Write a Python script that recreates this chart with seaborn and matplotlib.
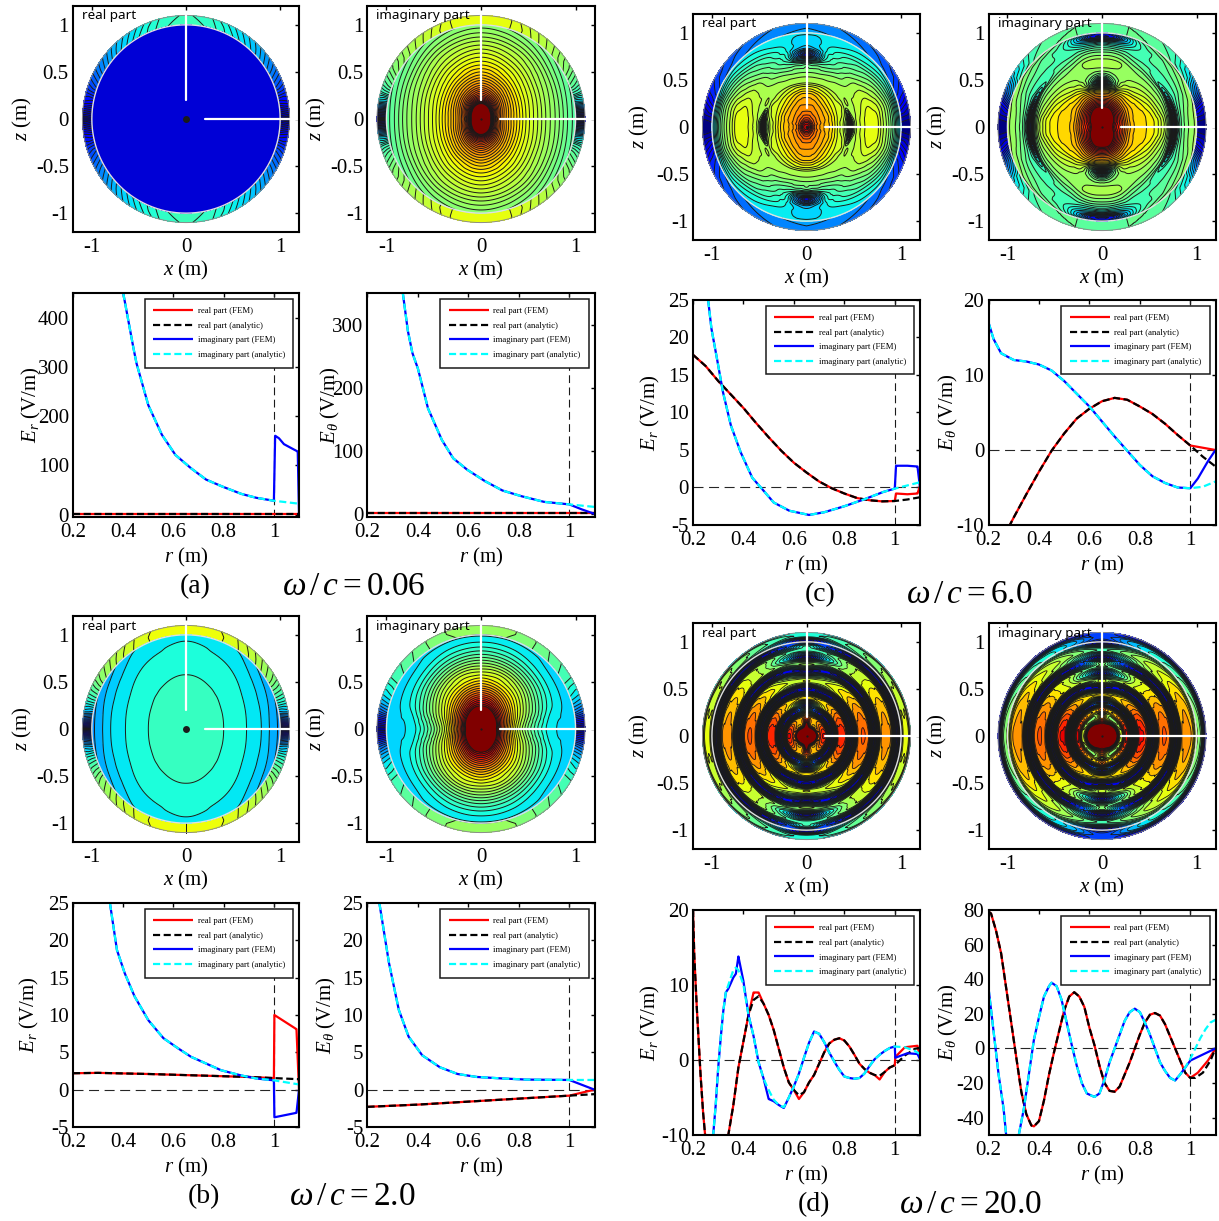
import numpy as np
import pandas as pd
import matplotlib
matplotlib.use("Agg")
import matplotlib.pyplot as plt
import matplotlib.tri as mtri
import seaborn as sns

W, H = 1219, 1221
SERIF = "Liberation Serif"

# ---- line panel data (r, value) ----
a_er_im_r = [.40,.42,.44,.453,.50,.554,.608,.67,.73,.794,.87,.93,1.0,1.1]
a_er_im = [450,395,340,307,222,162,121,94,71,57,42,34,28,22]
a_er_im_tail_r = [1.0,1.005,1.02,1.04,1.08,1.095,1.1]
a_er_im_tail = [28,160,155,143,132,128,0]
a_er_re_r = [.2,.6,1.0,1.1]
a_er_re = [1,1,1,1]
a_er_re_tail_r = [1.0,1.1]
a_er_re_tail = [1,1]

a_et_im_r = [.34,.36,.378,.4,.44,.495,.54,.595,.665,.735,.81,.90,1.0,1.1]
a_et_im = [350,290,255,230,167,117,88,70,52,37,28,19,15,11]
a_et_im_tail_r = [1.0,1.05,1.1]
a_et_im_tail = [15,7,0]
a_et_re_r = [.2,.6,1.0,1.1]
a_et_re = [1,1,1,1]
a_et_re_tail_r = [1.0,1.1]
a_et_re_tail = [1,1]

b_er_im_r = [.347,.375,.406,.445,.5,.56,.62,.67,.73,.79,.87,.93,1.0,1.1]
b_er_im = [25,18.7,15.6,12.5,9.3,6.9,5.5,4.4,3.5,2.6,1.9,1.5,1.25,.7]
b_er_im_tail_r = [1.0,1.002,1.09,1.1]
b_er_im_tail = [1.25,-3.7,-3.1,0]
b_er_re_r = [.2,.3,.5,.7,.9,1.0,1.1]
b_er_re = [2.2,2.25,2.1,1.9,1.7,1.55,1.4]
b_er_re_tail_r = [1.0,1.002,1.09,1.1]
b_er_re_tail = [1.55,10,8.1,0]

b_et_im_r = [.247,.285,.324,.363,.417,.487,.557,.634,.735,.83,1.0,1.1]
b_et_im = [25,17,10.7,7.1,4.6,3,2.1,1.7,1.5,1.35,1.3,1.3]
b_et_im_tail_r = [1.0,1.1]
b_et_im_tail = [1.3,0]
b_et_re_r = [.2,.4,.6,.8,1.0,1.1]
b_et_re = [-2.3,-2.0,-1.6,-1.2,-.8,-.6]
b_et_re_tail_r = [1.0,1.1]
b_et_re_tail = [-.8,0]

c_er_im_r = [.26,.273,.296,.319,.35,.389,.435,.474,.52,.582,.66,.72,.8,.877,.954,1.0,1.1]
c_er_im = [25,21.2,17,12.7,8.3,4.7,1.3,-.2,-2,-3.1,-3.66,-3.3,-2.5,-1.6,-.6,-.15,.7]
c_er_im_tail_r = [1.0,1.005,1.05,1.09,1.1]
c_er_im_tail = [-.15,2.9,2.9,2.8,0]
c_er_re_r = [.2,.25,.3,.35,.4,.45,.5,.55,.6,.65,.7,.75,.8,.85,.9,.95,1.0,1.05,1.1]
c_er_re = [17.7,16.2,14.2,12.4,10.6,8.6,6.7,4.9,3.3,2,.8,-.1,-.8,-1.4,-1.7,-1.85,-1.8,-1.6,-1.3]
c_er_re_tail_r = [1.0,1.005,1.05,1.09,1.1]
c_er_re_tail = [-1.8,-.8,-.9,-.8,.2]

c_et_im_r = [.2,.22,.25,.3,.35,.4,.45,.5,.55,.6,.65,.7,.75,.8,.85,.9,.95,1.0,1.05,1.1]
c_et_im = [17,14.8,12.9,12,11.8,11.4,10.6,9.2,7.5,5.8,3.8,1.8,-.1,-2,-3.5,-4.4,-5,-5.1,-4.9,-4.2]
c_et_im_tail_r = [1.0,1.03,1.07,1.1]
c_et_im_tail = [-5.1,-3.8,-1.5,0]
c_et_re_r = [.28,.3,.35,.4,.45,.5,.55,.6,.65,.7,.75,.8,.85,.9,.95,1.0,1.05,1.1]
c_et_re = [-10.3,-9,-5.9,-2.9,-.1,2.2,4.2,5.5,6.5,6.95,6.7,5.8,4.8,3.5,2,.6,-.9,-2.2]
c_et_re_tail_r = [1.0,1.05,1.1]
c_et_re_tail = [.6,.3,0]

d_er_re_r = [.2,.205,.215,.23,.24,.248,.29,.34,.36,.38,.40,.42,.44,.46,.48,.5,.52,.54,.56,.58,.6,.62,.64,.66,.68,.7,.72,.74,.76,.78,.8,.82,.84,.86,.88,.9,.92,.94,.96,.98,1.0,1.04,1.08,1.1]
d_er_re = [20,14,7,-2,-7,-10,-40,-10,-6,-1,2.5,6,8,8.5,7.5,6,4,1.5,-1,-3,-4,-4.7,-4.3,-3,-2,-.5,1,2.2,2.7,2.9,2.6,1.8,.7,-.5,-1.2,-1.7,-2,-2.1,-1.6,-1,-.7,.6,1.5,1.6]
d_er_re_tail_r = [1.0,1.002,1.04,1.09,1.1]
d_er_re_tail = [-.7,.4,1.7,1.9,.3]
d_er_re_spike_r = [.44,.46,.62,.94]
d_er_re_spike = [9,9,-5.2,-2.6]
d_er_im_r = [.26,.28,.29,.30,.31,.32,.33,.34,.36,.37,.38,.40,.42,.44,.46,.48,.5,.52,.54,.56,.58,.6,.62,.64,.66,.68,.7,.72,.74,.76,.78,.8,.82,.84,.86,.88,.9,.92,.94,.96,.98,1.0,1.04,1.08,1.1]
d_er_im = [-30,-10,-6,-1,3,6.5,9,10,12,12.3,12,10,6,3.2,-.3,-2.5,-4,-5.3,-6,-6.3,-5,-3.5,-1.8,.3,2.3,3.8,3.5,2.4,1,-.2,-1.3,-2.2,-2.4,-2.5,-2.4,-1.8,-.8,.1,.7,1.2,1.6,1.8,1.7,1.2,.8]
d_er_im_tail_r = [1.0,1.002,1.05,1.09,1.1]
d_er_im_tail = [1.8,.3,.9,.8,.1]
d_er_im_spike_r = [.34,.36,.37,.38,.40,.5,.52,.56]
d_er_im_spike = [9.5,11,11.5,13.8,10.5,-5.2,-5.5,-6.4]

d_et_re_r = [.2,.21,.23,.25,.27,.29,.31,.33,.35,.37,.38,.4,.42,.44,.46,.48,.5,.52,.54,.56,.58,.6,.62,.64,.66,.68,.7,.72,.74,.76,.78,.8,.82,.84,.86,.88,.9,.92,.94,.96,.98,1.0,1.02,1.05,1.08,1.1]
d_et_re = [79,78,68,55,35,15,-5,-25,-38,-44.5,-45,-42,-30,-15,-2,10,22,30,32.5,30,24,12,2,-10,-20,-24.5,-25,-22,-15,-8,0,8,15,19.5,20.5,19,14,7,0,-7,-14,-17,-17,-14,-7,0]
d_et_re_tail_r = [1.0,1.03,1.07,1.1]
d_et_re_tail = [-17,-14,-7,0]
d_et_im_r = [.2,.22,.24,.26,.27,.29,.32,.34,.36,.38,.4,.42,.44,.45,.47,.49,.51,.53,.55,.57,.59,.62,.64,.66,.68,.7,.72,.74,.76,.78,.8,.82,.84,.86,.88,.9,.92,.94,.96,.98,1.0,1.02,1.04,1.06,1.08,1.1]
d_et_im = [35,10,-15,-35,-50,-65,-50,-35,-15,5,18,30,36,38,36,28,15,2,-10,-20,-26,-28,-26,-18,-8,0,8,16,21,23,21,15,8,0,-8,-13,-17,-18.5,-15,-11,-6,0,6,11,15,16.5]
d_et_im_tail_r = [1.0,1.1]
d_et_im_tail = [-7,0]

# ---- contour fields: colour-scale values ----
shell_t = [0,3,6,10,15,20,30,45,60,75,90]
shell_r = [1.0,1.1]

a_re_r = [.0,1.0]
a_re_t = [0,90]
a_re = [[.08,.08],[.08,.08]]
a_re_sh_in = [.0,.03,.07,.12,.17,.21,.26,.32,.37,.41,.43]
a_re_sh_out = [.0,.05,.09,.13,.16,.19,.24,.30,.35,.40,.42]

a_im_r = [.05,.1,.15,.2,.3,.4,.5,.6,.7,.8,.9,1.0]
a_im_t = [0,30,60,90]
a_im = [[1.2,1.2,1.2,1.2],[.98,1.02,1.08,1.12],[.84,.88,.96,1.0],[.78,.81,.87,.9],[.71,.73,.77,.80],
        [.66,.675,.71,.735],[.615,.63,.66,.685],[.58,.595,.625,.645],[.545,.56,.59,.61],[.515,.53,.56,.575],
        [.48,.495,.525,.54],[.45,.465,.495,.51]]
a_im_sh_in = [.02,.12,.22,.33,.42,.47,.52,.56,.60,.63,.64]
a_im_sh_out = [.02,.14,.25,.34,.41,.45,.50,.55,.59,.63,.64]

b_re_r = [.0,.2,.4,.6,.8,.9,1.0]
b_re_t = [0,30,60,90]
b_re = [[.43,.43,.43,.43],[.42,.42,.425,.426],[.40,.403,.41,.412],[.376,.381,.392,.398],
        [.34,.351,.373,.381],[.305,.326,.358,.373],[.27,.29,.343,.364]]
b_re_sh_in = [.0,.1,.2,.3,.38,.44,.52,.58,.62,.64,.65]
b_re_sh_out = [.0,.12,.23,.32,.38,.43,.50,.56,.61,.64,.65]

b_im_r = [.05,.15,.2,.3,.4,.5,.6,.7,.8,.9,1.0]
b_im_t = [0,20,45,70,90]
b_im = [[1.2,1.2,1.2,1.2,1.2],[1.0,1.03,1.08,1.15,1.2],[.88,.91,.97,1.03,1.05],[.71,.75,.81,.88,.90],
        [.58,.63,.70,.76,.78],[.49,.55,.62,.66,.68],[.42,.48,.55,.595,.60],[.365,.415,.47,.51,.52],
        [.345,.37,.40,.43,.44],[.335,.345,.355,.375,.38],[.33,.33,.335,.34,.34]]
b_im_sh_in = [.0,.08,.15,.25,.32,.37,.43,.47,.50,.52,.52]
b_im_sh_out = [.0,.06,.13,.22,.30,.35,.42,.46,.50,.53,.53]

c_t = [0,8,15,25,45,65,75,82,90]
c_re_r = [.03,.08,.15,.25,.35,.40,.44,.46,.48,.52,.58,.68,.72,.76,.80,.84,.92,1.0]
c_re = [[.92,.92,.92,.92,.92,.92,.92,.92,.92],
        [.80,.80,.81,.81,.82,.83,.84,.84,.84],
        [.74,.74,.75,.75,.76,.77,.78,.78,.78],
        [.69,.69,.69,.70,.71,.73,.74,.74,.74],
        [.60,.60,.61,.62,.64,.67,.69,.70,.70],
        [.55,.56,.58,.60,.61,.63,.64,.65,.65],
        [.42,.46,.52,.57,.58,.60,.61,.61,.61],
        [.18,.28,.42,.54,.57,.58,.58,.58,.58],
        [.42,.46,.52,.56,.56,.56,.56,.56,.56],
        [.56,.56,.56,.56,.56,.55,.55,.55,.55],
        [.60,.60,.59,.58,.55,.53,.52,.52,.52],
        [.64,.64,.63,.60,.54,.47,.45,.44,.44],
        [.63,.63,.62,.59,.52,.45,.41,.33,.29],
        [.62,.62,.61,.57,.50,.44,.38,.25,.10],
        [.58,.58,.58,.55,.48,.42,.38,.28,.18],
        [.55,.55,.55,.52,.46,.41,.37,.33,.30],
        [.46,.46,.46,.44,.40,.37,.36,.34,.33],
        [.30,.30,.30,.33,.35,.35,.35,.35,.35]]
c_re_sh_in = [.0,.02,.05,.1,.15,.18,.22,.24,.26,.27,.28]
c_re_sh_out = [.0,.01,.03,.06,.1,.14,.18,.21,.23,.25,.26]

c_im_r = [.05,.12,.2,.3,.4,.44,.47,.5,.54,.62,.7,.73,.76,.79,.82,.9,.96,1.0]
c_im = [[1.2]*9,
        [.95,.96,.97,1.,1.05,1.1,1.12,1.15,1.15],
        [.84,.85,.86,.87,.92,.98,1.0,1.0,1.0],
        [.72,.72,.72,.73,.76,.8,.81,.81,.81],
        [.68,.68,.68,.68,.67,.66,.64,.63,.62],
        [.68,.68,.68,.67,.65,.60,.52,.46,.42],
        [.67,.67,.67,.66,.62,.57,.46,.32,.12],
        [.66,.66,.66,.64,.60,.56,.48,.40,.28],
        [.65,.65,.64,.62,.58,.54,.51,.47,.44],
        [.60,.60,.58,.56,.54,.53,.54,.54,.54],
        [.50,.50,.50,.50,.50,.52,.55,.56,.56],
        [.38,.40,.42,.45,.47,.50,.53,.54,.54],
        [.12,.14,.20,.34,.44,.48,.51,.52,.52],
        [.34,.36,.38,.41,.44,.46,.49,.50,.50],
        [.44,.44,.44,.43,.44,.44,.46,.47,.47],
        [.51,.51,.50,.48,.46,.42,.37,.35,.35],
        [.54,.54,.53,.52,.48,.42,.30,.15,.12],
        [.55,.55,.55,.54,.52,.45,.35,.2,.15]]
c_im_sh_in = [.0,.02,.05,.1,.2,.3,.4,.45,.47,.47,.46]
c_im_sh_out = [.0,.01,.03,.06,.12,.2,.33,.42,.46,.47,.47]

d_r = [.03,.06,.09,.12,.15,.18,.21,.24,.27,.30,.33,.36,.39,.42,.45,.48,.51,.54,.57,.60,.63,.66,.69,.72,.75,.78,.81,.84,.87,.90,.93,.96,.99,1.02,1.05,1.08,1.11]
d_t = [0,15,30,45,60,75,90]
d_blend = [0,0,.02,.05,.12,.4,1]
d_fade = [1,.97,.92,.84,.78,.72,.7]
d_re_x = [1.6,1.6,1.2,.82,.86,.9,.82,.3,0,.3,.82,.88,.88,.8,.3,0,.3,.74,.8,.82,.8,.74,.3,0,.3,.68,.74,.76,.74,.68,.3,0,.3,.6,.62,.6,.3]
d_re_z = [1.6,1.6,1.3,1.1,.95,.85,.78,.72,.5,.2,.02,.3,.65,.65,.4,.1,.02,.3,.58,.6,.45,.15,.02,.3,.52,.5,.25,.02,.2,.4,.44,.4,.2,.02,.35,.38,.38]
d_im_x = [1.7,1.7,1.6,1.5,1.1,.7,.6,.86,.9,.6,0,.5,.88,.9,.88,.78,.3,0,.3,.74,.8,.82,.8,.74,.3,0,.3,.7,.74,.76,.74,.7,.55,.52,.45,.15,.02]
d_im_z = [1.2,1.2,1.1,1.0,.9,.8,.75,.5,.75,.8,.5,.0,.2,.62,.64,.3,.05,.3,.58,.58,.3,.03,.15,.4,.5,.5,.2,.03,.2,.42,.42,.2,.02,.15,.2,.2,.2]

legend_labels = ["real part (FEM)", "real part (analytic)", "imaginary part (FEM)", "imaginary part (analytic)"]

# ---- helpers ----
sns.set_theme(style="white")
plt.rcParams.update({
    "font.family": [SERIF, "DejaVu Serif"], "mathtext.fontset": "custom",
    "mathtext.rm": SERIF, "mathtext.it": SERIF + ":italic", "mathtext.bf": SERIF + ":bold",
    "axes.unicode_minus": False, "axes.edgecolor": "black", "text.color": "black",
    "xtick.color": "black", "ytick.color": "black", "axes.labelcolor": "black",
})

fig = plt.figure(figsize=(W / 100, H / 100), dpi=100, facecolor="white")


def make_ax(left, right, top, bottom):
    ax = fig.add_axes([left / W, 1 - bottom / H, (right - left) / W, (bottom - top) / H])
    ax.tick_params(direction="in", length=3, width=1, top=True, right=True, labelsize=15)
    ax.tick_params(axis="x", pad=4)
    ax.tick_params(axis="y", pad=3)
    for s in ax.spines.values():
        s.set_visible(True)
        s.set_linewidth(1.5)
        s.set_color("black")
    return ax


def smooth_eval(rows, cols, table, rq, tq, kind="cubic"):
    """Evaluate a hand-read (r, theta) table of one quadrant on a fine polar grid."""
    rows, cols, table = np.asarray(rows, float), np.asarray(cols, float), np.asarray(table, float)
    tt = np.r_[-cols[:0:-1], cols, 180 - cols[-2::-1]]
    zz = np.c_[table[:, :0:-1], table, table[:, -2::-1]]
    T, R = np.meshgrid(tt, rows)
    tri = mtri.Triangulation(T.ravel() / 90.0, R.ravel())
    if kind == "cubic":
        f = mtri.CubicTriInterpolator(tri, zz.ravel(), kind="geom")
    else:
        f = mtri.LinearTriInterpolator(tri, zz.ravel())
    th = np.radians(tq)
    fold = np.degrees(np.arctan2(np.abs(np.sin(th)), np.abs(np.cos(th))))
    TQ, RQ = np.meshgrid(fold, rq)
    Z = f(TQ.ravel() / 90.0, RQ.ravel())
    return np.ma.filled(Z, np.nan).reshape(TQ.shape)


def draw_region(ax, rq, Z, step, lw):
    tq = THETA
    X = np.outer(rq, np.cos(np.radians(tq)))
    Y = np.outer(rq, np.sin(np.radians(tq)))
    n = int(.97 / step)
    levels = .97 - step * np.arange(n, -1, -1)
    ax.contourf(X, Y, Z, levels=levels, cmap="jet", vmin=0, vmax=1, extend="both")
    if np.nanmax(Z) > np.nanmin(Z):
        ax.contour(X, Y, Z, levels=levels, colors="k", linewidths=lw)


THETA = np.linspace(0, 360, 721)


def contour_panel(box, title, in_r, in_t, in_z, sh_in, sh_out, step, kind="cubic", ylab_dx=-51,
                  sh_step=None, dot=1.6, lw=.7):
    ax = make_ax(*box)
    if sh_in is not None:
        rq = np.linspace(1.0, 1.1, 14)
        draw_region(ax, rq, smooth_eval(shell_r, shell_t, [sh_in, sh_out], rq, THETA, "linear"), sh_step or step, lw)
        r_hi = 1.0
    else:
        r_hi = 1.1
    rows = list(in_r)
    table = [list(v) for v in in_z]
    if rows[0] > 0:
        rows = [0.0] + rows
        table = [table[0]] + table
    rq = np.linspace(0, r_hi, 330)
    draw_region(ax, rq, smooth_eval(rows, in_t, table, rq, THETA, kind), step, lw)
    c = np.radians(THETA)
    ax.plot(1.1 * np.cos(c), 1.1 * np.sin(c), color="0.55", lw=.7)
    ax.plot(np.cos(c), np.sin(c), color="0.88", lw=1.0)
    ax.plot([.2, 1.2], [0, 0], color="white", lw=1.6, clip_on=False)
    ax.plot([0, 0], [.2, 1.1], color="white", lw=1.6)
    ax.plot([0], [0], marker="o", ms=dot, color="k", mew=0)
    ax.set_xlim(-1.2, 1.2)
    ax.set_ylim(-1.2, 1.2)
    ax.set_xticks([-1, 0, 1], ["-1", "0", "1"])
    ax.set_yticks([-1, -.5, 0, .5, 1], ["-1", "-0.5", "0", "0.5", "1"])
    w, h = box[1] - box[0], box[3] - box[2]
    ax.set_xlabel(r"$x$ (m)", fontsize=15, va="center")
    ax.xaxis.set_label_coords(.5, -38.5 / h)
    ax.set_ylabel(r"$z$ (m)", fontsize=15, va="center")
    ax.yaxis.set_label_coords(ylab_dx / w, .5)
    ax.text(9 / w, 1 - 10 / h, title, transform=ax.transAxes, family="Noto Sans", fontsize=9.7, va="center", ha="left")
    ax.grid(False)
    return ax


def fem(r, y, tr, ty, spike_r=(), spike=()):
    fix = dict(zip(spike_r, spike))
    rr = [v for v in r if v < 1.0]
    yy = [fix.get(a, b) for a, b in zip(r, y) if a < 1.0]
    return rr + list(tr), yy + list(ty)


def line_panel(box, ylabel, ylim, yticks, ylab_dx, re, re_f, im, im_f, zero=True):
    ax = make_ax(*box)
    frames = []
    for name, (r, y) in zip(legend_labels, [re_f, re, im_f, im]):
        frames.append(pd.DataFrame({"r": r, "E": y, "series": name}))
    df = pd.concat(frames, ignore_index=True)
    palette = dict(zip(legend_labels, ["#ff0000", "#000000", "#0000ff", "#00ffff"]))
    dashes = dict(zip(legend_labels, [(1, 0), (3.2, 1.6), (1, 0), (3.2, 1.6)]))
    sns.lineplot(data=df, x="r", y="E", hue="series", style="series", hue_order=legend_labels,
                 style_order=legend_labels, palette=palette, dashes=dashes, estimator=None, sort=False,
                 errorbar=None, lw=1.6, ax=ax)
    ax.axvline(1, color="k", lw=.8, dashes=(7, 4), zorder=1)
    if zero:
        ax.axhline(0, color="0.15", lw=.8, dashes=(9, 5), zorder=1)
    ax.set_xlim(.2, 1.1)
    ax.set_ylim(*ylim)
    ax.set_xticks([.2, .4, .6, .8, 1], ["0.2", "0.4", "0.6", "0.8", "1"])
    ax.set_yticks(yticks, [str(v) for v in yticks])
    w, h = box[1] - box[0], box[3] - box[2]
    ax.set_xlabel(r"$r$ (m)", fontsize=15, va="center")
    ax.xaxis.set_label_coords(.5, -40 / h)
    ax.set_ylabel(ylabel, fontsize=15, va="center")
    ax.yaxis.set_label_coords(ylab_dx / w, .5)
    handles, labels = ax.get_legend_handles_labels()
    leg = ax.legend(handles, labels, loc="upper right", bbox_to_anchor=(1, 1), fontsize=6.3, frameon=True,
                    fancybox=False, framealpha=1, edgecolor="k", borderpad=.95, labelspacing=.75,
                    handlelength=4.6, handletextpad=.5, borderaxespad=.65)
    leg.get_frame().set_linewidth(1.1)
    leg.set_zorder(5)
    return ax


def caption(tag, tag_x, om, om_x, y):
    fig.text(tag_x / W, 1 - y / H, tag, fontsize=20, ha="center", va="center")
    fig.text(om_x / W, 1 - y / H, om, fontsize=24, ha="left", va="center")


def blend_table(x_vals, z_vals):
    return [[a * f * (1 - w) + b * w for w, f in zip(d_blend, d_fade)] for a, b in zip(x_vals, z_vals)]


ER, ET = r"$E_r$ (V/m)", r"$E_\theta$ (V/m)"
XL = (73, 299)
XR = (367.5, 594.5)
XL2 = (693, 920)
XR2 = (988.5, 1215.5)

# (a)
contour_panel((*XL, 6, 232), "real part", a_re_r, a_re_t, a_re, a_re_sh_in, a_re_sh_out, .015, kind="linear", dot=5)
contour_panel((*XR, 6, 232), "imaginary part", a_im_r, a_im_t, a_im, a_im_sh_in, a_im_sh_out, .015)
line_panel((*XL, 293, 517), ER, (-5, 450), [0, 100, 200, 300, 400], -42,
           (a_er_re_r, a_er_re), fem(a_er_re_r, a_er_re, a_er_re_tail_r, a_er_re_tail),
           (a_er_im_r, a_er_im), fem(a_er_im_r, a_er_im, a_er_im_tail_r, a_er_im_tail), zero=False)
line_panel((*XR, 293, 517), ET, (-5, 350), [0, 100, 200, 300], -37.5,
           (a_et_re_r, a_et_re), fem(a_et_re_r, a_et_re, a_et_re_tail_r, a_et_re_tail),
           (a_et_im_r, a_et_im), fem(a_et_im_r, a_et_im, a_et_im_tail_r, a_et_im_tail), zero=False)
caption("(a)", 195, r"$\omega\,/\,c = 0.06$", 282, 587)

# (b)
contour_panel((*XL, 616, 842), "real part", b_re_r, b_re_t, b_re, b_re_sh_in, b_re_sh_out, .03, sh_step=.02, dot=5)
contour_panel((*XR, 616, 842), "imaginary part", b_im_r, b_im_t, b_im, b_im_sh_in, b_im_sh_out, .025)
line_panel((*XL, 903, 1127), ER, (-5, 25), [-5, 0, 5, 10, 15, 20, 25], -44,
           (b_er_re_r, b_er_re), fem(b_er_re_r, b_er_re, b_er_re_tail_r, b_er_re_tail),
           (b_er_im_r, b_er_im), fem(b_er_im_r, b_er_im, b_er_im_tail_r, b_er_im_tail))
line_panel((*XR, 903, 1127), ET, (-5, 25), [-5, 0, 5, 10, 15, 20, 25], -41.5,
           (b_et_re_r, b_et_re), fem(b_et_re_r, b_et_re, b_et_re_tail_r, b_et_re_tail),
           (b_et_im_r, b_et_im), fem(b_et_im_r, b_et_im, b_et_im_tail_r, b_et_im_tail))
caption("(b)", 204, r"$\omega\,/\,c = 2.0$", 289, 1197)

# (c)
contour_panel((*XL2, 14, 240), "real part", c_re_r, c_t, c_re, c_re_sh_in, c_re_sh_out, .025, ylab_dx=-54, dot=2.5)
contour_panel((*XR2, 14, 240), "imaginary part", c_im_r, c_t, c_im, c_im_sh_in, c_im_sh_out, .025)
line_panel((*XL2, 300, 525), ER, (-5, 25), [-5, 0, 5, 10, 15, 20, 25], -43,
           (c_er_re_r, c_er_re), fem(c_er_re_r, c_er_re, c_er_re_tail_r, c_er_re_tail),
           (c_er_im_r, c_er_im), fem(c_er_im_r, c_er_im, c_er_im_tail_r, c_er_im_tail))
line_panel((*XR2, 300, 525), ET, (-10, 20), [-10, 0, 10, 20], -40.5,
           (c_et_re_r, c_et_re), fem(c_et_re_r, c_et_re, c_et_re_tail_r, c_et_re_tail),
           (c_et_im_r, c_et_im), fem(c_et_im_r, c_et_im, c_et_im_tail_r, c_et_im_tail))
caption("(c)", 820, r"$\omega\,/\,c = 6.0$", 906.5, 595)

# (d)
contour_panel((*XL2, 623, 849), "real part", d_r, d_t, blend_table(d_re_x, d_re_z), None, None, .04, ylab_dx=-54, lw=.6)
contour_panel((*XR2, 623, 849), "imaginary part", d_r, d_t, blend_table(d_im_x, d_im_z), None, None, .04, lw=.6)
line_panel((*XL2, 910, 1135), ER, (-10, 20), [-10, 0, 10, 20], -43,
           (d_er_re_r, d_er_re), fem(d_er_re_r, d_er_re, d_er_re_tail_r, d_er_re_tail, d_er_re_spike_r, d_er_re_spike),
           (d_er_im_r, d_er_im), fem(d_er_im_r, d_er_im, d_er_im_tail_r, d_er_im_tail, d_er_im_spike_r, d_er_im_spike))
line_panel((*XR2, 910, 1135), ET, (-50, 80), [-40, -20, 0, 20, 40, 60, 80], -40.5,
           (d_et_re_r, d_et_re), fem(d_et_re_r, d_et_re, d_et_re_tail_r, d_et_re_tail),
           (d_et_im_r, d_et_im), fem(d_et_im_r, d_et_im, d_et_im_tail_r, d_et_im_tail))
caption("(d)", 814, r"$\omega\,/\,c = 20.0$", 899, 1205)

fig.savefig("out.png", dpi=100, facecolor="white")
